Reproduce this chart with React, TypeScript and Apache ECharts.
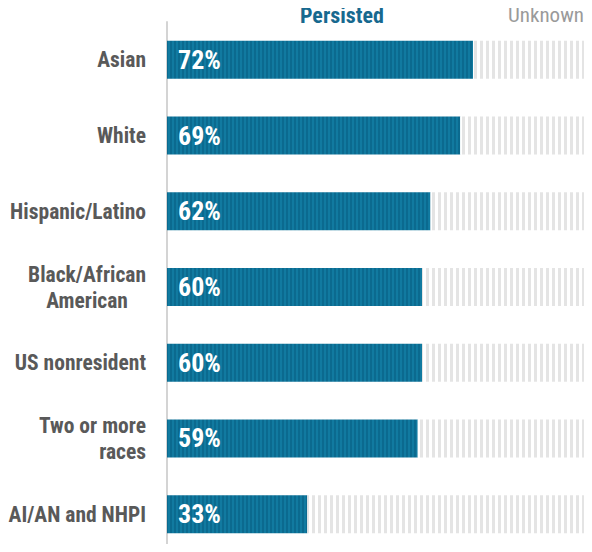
import React, { useEffect, useRef } from "react";
import * as echarts from "echarts";

const categories = [
  "Asian",
  "White",
  "Hispanic/Latino",
  "Black/African\nAmerican",
  "US nonresident",
  "Two or more\nraces",
  "AI/AN and NHPI",
];
const persisted = [72, 69, 62, 60, 60, 59, 33];
const unknown = [28, 31, 38, 40, 40, 41, 67];
const legendLabels = ["Persisted", "Unknown"];

const FONT = '"Roboto Condensed", "Liberation Sans Narrow", "Arial Narrow", "DejaVu Sans Condensed", sans-serif';
const centeredLabels = ["Black/African\nAmerican"];

function makePattern(w: number, stripes: [number, string][]) {
  const c = document.createElement("canvas");
  c.width = w;
  c.height = 4;
  const ctx = c.getContext("2d")!;
  let x = 0;
  for (const [sw, col] of stripes) {
    ctx.fillStyle = col;
    ctx.fillRect(x, 0, sw, 4);
    x += sw;
  }
  return c;
}

export default function App() {
  const ref = useRef<HTMLDivElement>(null);
  useEffect(() => {
    const chart = echarts.init(ref.current!, null, { renderer: "svg" });
    const pPat = makePattern(4, [
      [2, "#117aa0"],
      [2, "#0b6a8f"],
    ]);
    const uPat = makePattern(6, [
      [3, "#e4e4e4"],
      [3, "#ffffff"],
    ]);
    const labelStyle = {
      color: "#595959",
      fontFamily: FONT,
      fontWeight: "bold",
      fontSize: 21.5,
      lineHeight: 26,
    };
    chart.setOption({
      animation: false,
      grid: { left: 167, top: 22, right: 0, height: 532, containLabel: false },
      xAxis: {
        type: "value",
        min: 0,
        max: 100,
        show: false,
      },
      yAxis: {
        type: "category",
        data: categories,
        inverse: true,
        axisTick: { show: false },
        axisLine: { show: true, lineStyle: { color: "#d4d4d4", width: 2 } },
        axisLabel: {
          ...labelStyle,
          align: "right",
          margin: 21,
          formatter: (v: string) =>
            centeredLabels.includes(v)
              ? v
                  .split("\n")
                  .map((s) => `{c|${s}}`)
                  .join("\n")
              : v,
          rich: {
            c: { ...labelStyle, align: "center" },
          },
        },
      },
      graphic: [
        {
          type: "text",
          x: 300,
          y: 15,
          style: {
            text: legendLabels[0],
            fill: "#17698f",
            font: `bold 22px ${FONT}`,
            textVerticalAlign: "middle",
          },
        },
        {
          type: "text",
          x: 508,
          y: 15,
          style: {
            text: legendLabels[1],
            fill: "#9a9a9a",
            font: `21px ${FONT}`,
            textVerticalAlign: "middle",
          },
        },
      ],
      series: [
        {
          name: legendLabels[0],
          type: "bar",
          stack: "s",
          data: persisted,
          barWidth: 38,
          itemStyle: { color: { image: pPat, repeat: "repeat" } },
          label: {
            show: true,
            position: "insideLeft",
            distance: 11,
            formatter: "{c}%",
            color: "#ffffff",
            fontFamily: FONT,
            fontWeight: "bold",
            fontSize: 26,
          },
        },
        {
          name: legendLabels[1],
          type: "bar",
          stack: "s",
          data: unknown,
          barWidth: 38,
          itemStyle: { color: { image: uPat, repeat: "repeat" } },
        },
      ],
    });
    return () => chart.dispose();
  }, []);
  return <div ref={ref} style={{ width: 592, height: 552, margin: -8 }} />;
}
